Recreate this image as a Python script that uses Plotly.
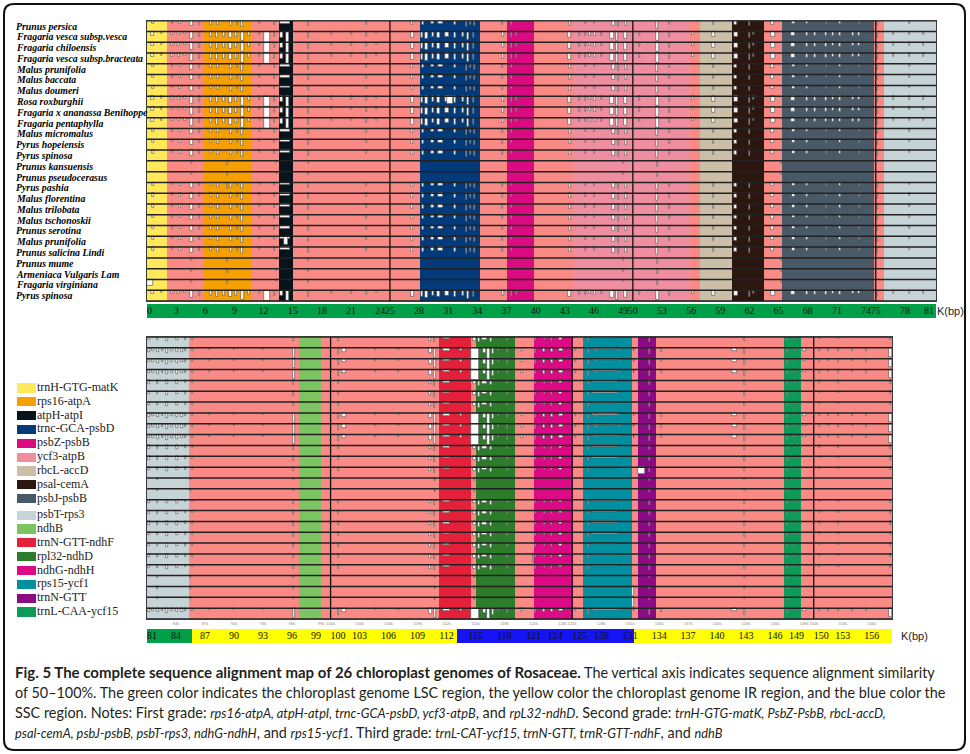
import plotly.graph_objects as go

W, H = 970, 754

# ---------------- data ----------------
species = ["Prunus persica", "Fragaria vesca subsp.vesca", "Fragaria chiloensis",
           "Fragaria vesca subsp.bracteata", "Malus prunifolia", "Malus baccata",
           "Malus doumeri", "Rosa roxburghii", "Fragaria x ananassa Benihoppe",
           "Fragaria pentaphylla", "Malus micromalus", "Pyrus hopeiensis", "Pyrus spinosa",
           "Prunus kansuensis", "Prunus pseudocerasus", "Pyrus pashia", "Malus florentina",
           "Malus trilobata", "Malus tschonoskii", "Prunus serotina", "Malus prunifolia",
           "Prunus salicina Lindi", "Prunus mume", "Armeniaca Vulgaris Lam",
           "Fragaria virginiana", "Pyrus spinosa"]
# similarity profile type of each genome row: F = many low-similarity dips, M = moderate, P = nearly flat
row_pattern = ["M", "F", "F", "F", "M", "M", "M", "F", "F", "F", "M", "M", "M",
               "P", "P", "M", "M", "M", "M", "M", "M", "M", "P", "P", "P", "F"]

legend_names = ["trnH-GTG-matK", "rps16-atpA", "atpH-atpI", "trnc-GCA-psbD", "psbZ-psbB",
                "ycf3-atpB", "rbcL-accD", "psal-cemA", "psbJ-psbB", "psbT-rps3", "ndhB",
                "trnN-GTT-ndhF", "rpl32-ndhD", "ndhG-ndhH", "rps15-ycf1", "trnN-GTT",
                "trnL-CAA-ycf15"]
legend_colors = ["#FFE95A", "#F5A000", "#08131B", "#033A7A", "#DA0A80", "#EE8EA0",
                 "#CBBFA8", "#2C1610", "#4A5968", "#C7D4D7", "#7CC462", "#E4203A",
                 "#2C7C2C", "#DC0A84", "#0090A0", "#8C0A84", "#0E9A58"]
background_color = "#FA8A86"

# (region, start kbp, end kbp)
top_regions = [("trnH-GTG-matK", 0.0, 2.1), ("rps16-atpA", 5.9, 10.75),
               ("atpH-atpI", 13.55, 14.98), ("trnc-GCA-psbD", 28.05, 34.28),
               ("psbZ-psbB", 37.0, 39.8), ("ycf3-atpB", 43.9, 55.9),
               ("rbcL-accD", 56.9, 60.2), ("psal-cemA", 60.2, 63.45),
               ("psbJ-psbB", 65.4, 74.8), ("psbT-rps3", 75.8, 81.2)]
bottom_regions = [("psbT-rps3", 81.0, 85.35), ("ndhB", 96.75, 99.0),
                  ("trnN-GTT-ndhF", 111.25, 114.5), ("rpl32-ndhD", 115.0, 119.07),
                  ("ndhG-ndhH", 121.0, 125.07), ("rps15-ycf1", 126.15, 131.2),
                  ("trnN-GTT", 131.8, 133.65), ("trnL-CAA-ycf15", 146.95, 148.65)]
top_range = [0.0, 81.2]
bottom_range = [81.0, 158.1]
top_boundaries = [25, 50, 75]
bottom_boundaries = [100, 125, 150]

# genome regions of the axis strips: (name, start, end, colour)
top_strip = [("LSC", 0.0, 81.2, "#00A048")]
bottom_strip = [("LSC", 81.0, 85.7, "#00A048"), ("IRb", 85.7, 113.1, "#FFFF00"),
                ("SSC", 113.1, 131.4, "#1414F5"), ("IRa", 131.4, 158.2, "#FFFF00")]
top_ticks = [0, 3, 6, 9, 12, 15, 18, 21, 24, 25, 28, 31, 34, 37, 40, 43, 46, 49, 50, 53,
             56, 59, 62, 65, 68, 71, 74, 75, 78, 81]
bottom_ticks = [81, 84, 87, 90, 93, 96, 99, 100, 103, 106, 109, 112, 115, 118, 121, 124,
                125, 128, 131, 134, 137, 140, 143, 146, 149, 150, 153, 156]

# similarity dips: (position kbp, width kbp, depth as fraction of 50-100% row)
top_dips = {
    "F": [(0.6, 0.3, 0.35), (1.5, 0.15, 0.25), (2.6, 0.2, 0.3), (3.3, 0.15, 0.3), (3.9, 0.15, 0.25),
          (4.6, 0.35, 0.7), (5.4, 0.2, 0.5), (6.6, 0.25, 0.5), (7.2, 0.3, 0.6), (7.9, 0.25, 0.5),
          (8.6, 0.25, 0.6), (9.2, 0.2, 0.5), (9.8, 0.35, 0.9), (10.5, 0.15, 0.4), (11.6, 0.15, 0.3),
          (12.35, 0.7, 1.0), (13.1, 0.15, 0.5), (13.85, 0.3, 0.55), (14.45, 0.25, 1.0),
          (16.6, 0.15, 0.6), (19.0, 0.1, 0.3), (21.0, 0.1, 0.3), (22.6, 0.15, 0.45),
          (23.6, 0.1, 0.25), (27.3, 0.35, 0.6), (28.3, 0.2, 0.6), (28.8, 0.3, 0.7),
          (29.4, 0.2, 0.5), (30.0, 0.4, 0.6), (30.9, 0.4, 0.5), (31.7, 0.2, 0.6), (32.5, 0.2, 0.5),
          (33.0, 0.2, 0.8), (33.6, 0.2, 0.6), (36.6, 0.2, 0.5), (37.5, 0.15, 0.5), (38.0, 0.15, 0.4),
          (43.5, 0.3, 0.6), (44.5, 0.15, 0.4), (45.1, 0.15, 0.4), (45.6, 0.15, 0.35),
          (46.1, 0.15, 0.4), (46.8, 0.15, 0.35), (47.9, 0.4, 0.7), (48.4, 0.2, 0.85),
          (49.2, 0.3, 0.7), (50.7, 0.15, 0.4), (52.5, 0.3, 0.9), (53.8, 0.15, 0.5),
          (56.2, 0.2, 0.3), (58.3, 0.3, 0.5), (60.6, 0.35, 0.5), (62.0, 0.15, 0.6),
          (62.4, 0.1, 0.3), (64.4, 0.4, 0.5), (66.5, 0.4, 0.4), (67.9, 0.2, 0.4), (68.7, 0.2, 0.4),
          (69.9, 0.15, 0.4), (70.6, 0.15, 0.35), (71.3, 0.2, 0.4), (72.7, 0.2, 0.35),
          (73.3, 0.2, 0.35), (75.2, 0.15, 0.6), (76.8, 0.1, 0.3), (78.5, 0.1, 0.3), (79.9, 0.1, 0.3)],
    "M": [(0.6, 0.25, 0.3), (2.6, 0.15, 0.25), (3.4, 0.15, 0.3), (4.6, 0.25, 0.5), (5.4, 0.15, 0.35),
          (6.6, 0.2, 0.35), (7.3, 0.2, 0.4), (8.6, 0.2, 0.45), (9.3, 0.15, 0.35), (9.8, 0.25, 0.6),
          (11.6, 0.15, 0.25), (13.1, 0.15, 0.35), (14.2, 1.1, 0.25), (16.6, 0.1, 0.5),
          (22.6, 0.1, 0.35), (27.3, 0.25, 0.4), (28.4, 0.2, 0.4), (29.4, 0.3, 0.3),
          (30.2, 0.5, 0.3), (31.7, 0.15, 0.4), (32.9, 0.15, 0.6), (33.3, 0.15, 0.4),
          (33.7, 0.15, 0.5), (36.6, 0.15, 0.4), (37.5, 0.1, 0.35), (43.5, 0.2, 0.45),
          (45.1, 0.1, 0.3), (46.1, 0.1, 0.3), (48.0, 0.3, 0.5), (48.5, 0.15, 0.6),
          (49.3, 0.15, 0.5), (52.5, 0.2, 0.7), (53.8, 0.1, 0.4), (58.3, 0.2, 0.4),
          (60.6, 0.3, 0.4), (62.0, 0.12, 0.5), (64.4, 0.3, 0.35), (66.5, 0.3, 0.3),
          (67.9, 0.15, 0.3), (69.9, 0.12, 0.3), (71.3, 0.15, 0.3), (73.3, 0.15, 0.3),
          (75.2, 0.1, 0.5), (78.5, 0.08, 0.25)],
    "P": [(4.6, 0.1, 0.3), (8.3, 0.1, 0.35), (13.3, 0.1, 0.2), (16.6, 0.08, 0.3), (49.0, 0.1, 0.25),
          (52.5, 0.12, 0.5), (65.3, 0.1, 0.3)],
}
bottom_dips = {
    "F": [(81.2, 0.2, 0.35), (81.6, 0.15, 0.3), (82.1, 0.2, 0.4), (82.6, 0.15, 0.3), (83.1, 0.2, 0.45),
          (83.6, 0.15, 0.3), (84.1, 0.2, 0.4), (84.6, 0.15, 0.35), (85.0, 0.15, 0.3), (85.7, 0.1, 0.3),
          (87.5, 0.08, 0.2), (90.0, 0.08, 0.2), (93.0, 0.08, 0.2), (96.2, 0.2, 0.9),
          (100.8, 0.15, 0.6), (101.4, 0.4, 0.35), (104.6, 0.1, 0.2), (107.0, 0.1, 0.2),
          (110.3, 0.3, 0.5), (110.8, 0.15, 0.9), (112.0, 0.8, 0.25), (113.5, 0.2, 0.3),
          (114.95, 0.9, 1.0), (115.9, 0.3, 0.45), (116.35, 0.35, 1.0), (116.8, 0.2, 0.6),
          (117.4, 0.15, 0.3), (118.3, 0.15, 0.45), (119.8, 0.15, 0.3), (121.2, 0.15, 0.45),
          (122.1, 0.15, 0.4), (122.9, 0.15, 0.4), (123.8, 0.4, 0.3), (125.3, 0.1, 0.3),
          (126.7, 0.15, 0.6), (128.4, 2.6, 0.15), (127.5, 0.1, 0.35), (129.9, 0.1, 0.3),
          (131.4, 0.1, 0.3), (133.0, 0.15, 0.6), (134.2, 0.1, 0.35), (141.8, 0.5, 0.3),
          (142.8, 0.1, 0.6), (147.3, 0.12, 0.5), (148.0, 0.1, 0.3), (149.0, 0.3, 0.25),
          (150.6, 0.1, 0.3), (151.5, 0.1, 0.25), (152.6, 0.1, 0.3), (154.0, 0.1, 0.25),
          (155.5, 0.1, 0.3), (157.95, 0.25, 0.8)],
    "M": [(81.2, 0.2, 0.3), (82.1, 0.15, 0.3), (83.1, 0.2, 0.35), (84.1, 0.15, 0.3), (85.0, 0.12, 0.25),
          (85.7, 0.08, 0.25), (96.2, 0.1, 0.4), (100.8, 0.1, 0.35), (110.3, 0.2, 0.35),
          (110.8, 0.1, 0.5), (112.0, 0.8, 0.2), (114.9, 0.25, 0.35), (115.4, 0.2, 0.5),
          (115.9, 0.5, 0.3), (116.6, 0.15, 0.45), (118.3, 0.12, 0.35), (121.2, 0.12, 0.35),
          (122.1, 0.1, 0.3), (122.9, 0.12, 0.35), (123.8, 0.3, 0.25), (126.7, 0.12, 0.45),
          (128.4, 2.6, 0.12), (133.0, 0.12, 0.45), (142.8, 0.1, 0.4), (147.3, 0.1, 0.4),
          (148.0, 0.08, 0.25), (150.6, 0.08, 0.2), (152.6, 0.08, 0.2), (157.95, 0.15, 0.3)],
    "P": [(82.1, 0.1, 0.2), (85.5, 0.08, 0.2), (96.2, 0.08, 0.2), (110.8, 0.08, 0.25),
          (114.9, 0.1, 0.25), (133.0, 0.08, 0.25), (142.8, 0.08, 0.2), (147.3, 0.08, 0.3)],
}
# row-specific dips: (row index, position, width, depth)
top_special = [(7, 31.2, 0.6, 0.7), (24, 0.3, 0.6, 0.55), (20, 14.3, 0.4, 0.8), (15, 8.3, 0.1, 0.6)]
bottom_special = [(12, 132.2, 0.7, 0.65), (23, 131.3, 0.2, 0.9), (24, 131.3, 0.2, 0.9),
                  (20, 121.0, 0.12, 0.8)]

IT = '<span style="font-size:12.8px"><i>'
EI = '</i></span>'
BO = '<span style="font-size:15px"><b>'
EB = '</b></span>'
caption_lines = [
    f"{BO}Fig.\u00a05 The complete sequence alignment map of 26 chloroplast genomes of Rosaceae.{EB} "
    "The vertical axis indicates sequence alignment similarity",
    "of 50\u2013100%. The green color indicates the chloroplast genome LSC region, the yellow "
    "color the chloroplast genome IR region, and the blue color the",
    f"SSC region. Notes: First grade: {IT}rps16-atpA, atpH-atpI, trnc-GCA-psbD, ycf3-atpB{EI}, and "
    f"{IT}rpL32-ndhD{EI}. Second grade: {IT}trnH-GTG-matK, PsbZ-PsbB, rbcL-accD,{EI}",
    f"{IT}psal-cemA, psbJ-psbB, psbT-rps3, ndhG-ndhH{EI}, and {IT}rps15-ycf1{EI}. Third grade: "
    f"{IT}trnL-CAT-ycf15, trnN-GTT, trnR-GTT-ndhF{EI}, and {IT}ndhB{EI}",
]

# ---------------- build ----------------
color_of = dict(zip(legend_names, legend_colors))
NROW = len(species)


def px_x(p):
    return p / W


def px_y(p):
    return 1 - p / H


fig = go.Figure()


def add_panel(regions, rng, dips, special, boundaries, xa, ya):
    starts = [rng[0]] + [r[1] for r in regions]
    ends = [rng[1]] + [r[2] for r in regions]
    cols = [background_color] + [color_of[r[0]] for r in regions]
    fig.add_trace(go.Bar(x=[(s + e) / 2 for s, e in zip(starts, ends)],
                         y=[NROW] * len(starts), base=[0] * len(starts),
                         width=[e - s for s, e in zip(starts, ends)],
                         marker=dict(color=cols, line=dict(width=0)),
                         xaxis=xa, yaxis=ya, hoverinfo="skip", showlegend=False))
    xs, ws, bs, hs = [], [], [], []
    for i, p in enumerate(row_pattern):
        top = NROW - i
        for pos, w, d in dips[p]:
            xs.append(pos); ws.append(w); bs.append(top - d); hs.append(d)
    for i, pos, w, d in special:
        top = NROW - i
        xs.append(pos); ws.append(w); bs.append(top - d); hs.append(d)
    fig.add_trace(go.Bar(x=xs, y=hs, base=bs, width=ws,
                         marker=dict(color="white", line=dict(color="#4a4a4a", width=0.6)),
                         xaxis=xa, yaxis=ya, hoverinfo="skip", showlegend=False))
    lx, ly = [], []
    for k in range(NROW + 1):
        lx += [rng[0], rng[1], None]
        ly += [k, k, None]
    fig.add_trace(go.Scatter(x=lx, y=ly, mode="lines", line=dict(color="#222222", width=1.5),
                             xaxis=xa, yaxis=ya, hoverinfo="skip", showlegend=False))
    vx, vy = [], []
    for b in boundaries:
        vx += [b, b, None]
        vy += [0, NROW, None]
    fig.add_trace(go.Scatter(x=vx, y=vy, mode="lines", line=dict(color="#111111", width=1.3),
                             xaxis=xa, yaxis=ya, hoverinfo="skip", showlegend=False))


def add_strip(strip, ticks, boundaries, xa, ya):
    fig.add_trace(go.Bar(x=[(s[1] + s[2]) / 2 for s in strip], y=[1] * len(strip),
                         base=[0] * len(strip), width=[s[2] - s[1] for s in strip],
                         marker=dict(color=[s[3] for s in strip], line=dict(width=0)),
                         xaxis=xa, yaxis=ya, hoverinfo="skip", showlegend=False))
    pos = []
    for j, t in enumerate(ticks):
        if j == 0:
            pos.append("middle right")
        elif j == len(ticks) - 1 and xa == "x2":
            pos.append("middle left")
        elif t in boundaries and t >= 100:
            pos.append("middle right")
        elif (t + 1) in boundaries and t >= 99:
            pos.append("middle left")
        else:
            pos.append("middle center")
    fig.add_trace(go.Scatter(x=ticks, y=[0.5] * len(ticks), mode="text",
                             text=[str(t) for t in ticks], textposition=pos,
                             textfont=dict(family="Liberation Serif", size=10, color="#111"),
                             xaxis=xa, yaxis=ya, hoverinfo="skip", showlegend=False,
                             cliponaxis=False))


add_panel(top_regions, top_range, top_dips, top_special, top_boundaries, "x", "y")
add_strip(top_strip, top_ticks, top_boundaries, "x2", "y2")
add_panel(bottom_regions, bottom_range, bottom_dips, bottom_special, bottom_boundaries, "x3", "y3")
add_strip(bottom_strip, bottom_ticks, bottom_boundaries, "x4", "y4")

# legend as bars on its own small axis
leg_y = [i + (0.2 if i >= 9 else 0) for i in range(len(legend_names))]
fig.add_trace(go.Bar(x=[19] * len(legend_names), y=leg_y, base=[0] * len(legend_names),
                     orientation="h", width=0.66,
                     marker=dict(color=legend_colors, line=dict(width=0)),
                     xaxis="x5", yaxis="y5", hoverinfo="skip", showlegend=False))
fig.add_trace(go.Scatter(x=[20] * len(legend_names), y=leg_y, mode="text",
                         text=legend_names, textposition="middle right",
                         textfont=dict(family="Liberation Serif", size=12, color="#222"),
                         xaxis="x5", yaxis="y5", hoverinfo="skip", showlegend=False,
                         cliponaxis=False))

hidden = dict(showgrid=False, zeroline=False, showticklabels=False, ticks="")
leg_top, leg_bot = 388, 612
scale = (leg_bot - leg_top) / leg_y[-1]
fig.update_layout(
    width=W, height=H, margin=dict(l=0, r=0, t=0, b=0),
    paper_bgcolor="white", plot_bgcolor="white", barmode="overlay", bargap=0,
    xaxis=dict(domain=[px_x(147), px_x(936)], range=top_range, anchor="y", **hidden,
               showline=True, mirror=True, linecolor="#3a3a3a", linewidth=1),
    yaxis=dict(domain=[px_y(301), px_y(20.7)], range=[0, NROW], anchor="x", **hidden,
               showline=True, mirror=True, linecolor="#3a3a3a", linewidth=1),
    xaxis2=dict(domain=[px_x(147), px_x(936)], range=top_range, anchor="y2", **hidden),
    yaxis2=dict(domain=[px_y(318), px_y(304)], range=[0, 1], anchor="x2", **hidden),
    xaxis3=dict(domain=[px_x(147), px_x(892)], range=bottom_range, anchor="y3",
                showgrid=False, zeroline=False, ticks="", tickangle=0,
                tickvals=bottom_ticks[1:], ticktext=[f"{t}k" for t in bottom_ticks[1:]],
                tickfont=dict(family="Liberation Sans", size=4, color="#888"),
                showline=True, mirror=True, linecolor="#3a3a3a", linewidth=1),
    yaxis3=dict(domain=[px_y(619), px_y(337)], range=[0, NROW], anchor="x3", **hidden,
                showline=True, mirror=True, linecolor="#3a3a3a", linewidth=1),
    xaxis4=dict(domain=[px_x(147), px_x(892)], range=bottom_range, anchor="y4", **hidden),
    yaxis4=dict(domain=[px_y(643), px_y(629)], range=[0, 1], anchor="x4", **hidden),
    xaxis5=dict(domain=[px_x(17), px_x(120)], range=[0, 103], anchor="y5", **hidden),
    yaxis5=dict(domain=[px_y(leg_bot + 6), px_y(leg_top - 6)],
                range=[leg_y[-1] + 6 / scale, -6 / scale], anchor="x5", **hidden),
    showlegend=False,
)

annotations = []
for i, name in enumerate(species):
    annotations.append(dict(xref="paper", yref="y", x=px_x(14), y=NROW - i - 0.5,
                            xanchor="left", yanchor="middle", showarrow=False,
                            text=f"<b><i>{name}</i></b>",
                            font=dict(family="Liberation Serif", size=9.8, color="#000")))
annotations.append(dict(xref="paper", yref="paper", x=px_x(935), y=px_y(311), xanchor="left",
                        yanchor="middle", showarrow=False, text="K(bp)",
                        font=dict(family="Liberation Sans", size=11, color="#222")))
annotations.append(dict(xref="paper", yref="paper", x=px_x(899), y=px_y(636), xanchor="left",
                        yanchor="middle", showarrow=False, text="K(bp)",
                        font=dict(family="Liberation Sans", size=11, color="#222")))
for j, line in enumerate(caption_lines):
    annotations.append(dict(xref="paper", yref="paper", x=px_x(13), y=px_y(672 + 20.2 * j),
                            xanchor="left", yanchor="middle", showarrow=False, text=line,
                            font=dict(family="Lato", size=14.4, color="#231F20")))
fig.update_layout(annotations=annotations)

# rounded outer frame
x0, x1, yt, yb = px_x(4), px_x(965), px_y(4), px_y(750)
rx, ry = 10 / W, 10 / H
path = (f"M {x0 + rx},{yt} L {x1 - rx},{yt} Q {x1},{yt} {x1},{yt - ry} L {x1},{yb + ry} "
        f"Q {x1},{yb} {x1 - rx},{yb} L {x0 + rx},{yb} Q {x0},{yb} {x0},{yb + ry} "
        f"L {x0},{yt - ry} Q {x0},{yt} {x0 + rx},{yt} Z")
fig.update_layout(shapes=[dict(type="path", xref="paper", yref="paper", path=path,
                               line=dict(color="#111", width=2))])

fig.write_html("out.html", config={"displayModeBar": False},
               post_script="document.body.style.margin='0';")
